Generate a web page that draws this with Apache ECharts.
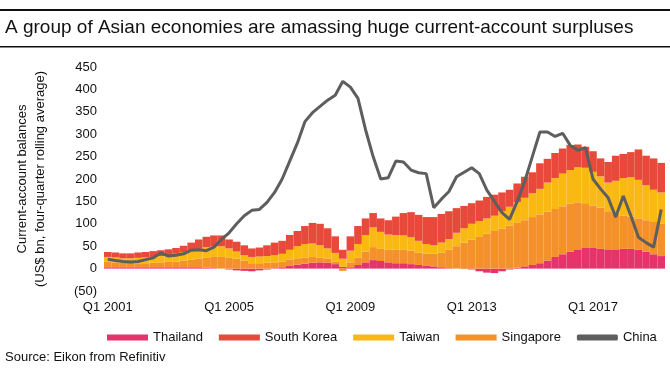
<!DOCTYPE html>
<html>
<head>
<meta charset="utf-8">
<title>Asian current-account surpluses</title>
<script src="https://cdn.jsdelivr.net/npm/echarts@6/dist/echarts.min.js"></script>
<style>
  html, body { margin: 0; padding: 0; background: #fff; }
  #chart { width: 670px; height: 377px; }
</style>
</head>
<body>
<div id="chart"></div>
<script>
// quarters Q1 2001 .. Q2 2019
const quarters = [];
for (let y = 2001; y <= 2019; y++) {
  for (let q = 1; q <= 4; q++) {
    if (y === 2019 && q > 2) break;
    quarters.push('Q' + q + ' ' + y);
  }
}

// US$ bn, four-quarter rolling average
const thailand = [
  3, 3, 3, 3, 3, 3, 3, 3, 3, 3, 3, 3, 3, 2, 1, 0,
  -2, -4, -5, -6, -4, -2, 1, 3, 6, 9, 11, 13, 14, 13, 10, 4,
  3, 8, 14, 19, 17, 14, 12, 12, 10, 8, 6, 5, 3, 1, 0, -1,
  -2, -6, -9, -10, -6, -2, 2, 5, 8, 12, 18, 26, 32, 38, 43, 46,
  46, 44, 43, 43, 44, 44, 42, 38, 32, 28
];
const singapore = [
  12, 11, 10, 10, 9, 9, 10, 11, 12, 13, 15, 17, 19, 22, 25, 26,
  24, 22, 18, 12, 12, 13, 13, 13, 14, 14, 14, 13, 11, 9, 6, -5,
  11, 17, 24, 29, 27, 28, 30, 30, 30, 28, 27, 28, 33, 41, 50, 58,
  65, 72, 78, 84, 89, 96, 100, 103, 107, 109, 109, 107, 107, 107, 105, 100,
  95, 92, 85, 79, 74, 72, 70, 70, 72, 72
];
const taiwan = [
  11, 11, 10, 10, 12, 13, 13, 14, 15, 17, 19, 20, 22, 24, 24, 24,
  21, 16, 12, 14, 15, 15, 16, 17, 22, 27, 30, 30, 27, 23, 19, 18,
  26, 30, 37, 44, 38, 34, 33, 32, 30, 26, 22, 19, 22, 24, 30, 32,
  35, 34, 34, 34, 39, 42, 46, 50, 53, 57, 65, 69, 73, 75, 78, 79,
  75, 70, 64, 74, 84, 88, 86, 78, 72, 70
];
const southKorea = [
  11, 11, 11, 11, 12, 12, 13, 13, 13, 13, 14, 18, 21, 23, 24, 24,
  20, 22, 22, 19, 20, 24, 28, 29, 33, 34, 40, 46, 48, 45, 37, 20,
  32, 40, 37, 32, 30, 32, 41, 50, 56, 58, 60, 63, 64, 62, 55, 50,
  46, 46, 48, 47, 42, 38, 42, 47, 47, 57, 53, 56, 56, 56, 51, 47,
  46, 40, 46, 56, 54, 56, 68, 66, 70, 66
];
const china = [
  21, 18, 16, 15, 16, 20, 24, 35, 28, 30, 33, 41, 42, 40, 48, 65,
  80, 100, 118, 130, 132, 148, 170, 200, 240, 280, 328, 348, 362, 376, 387, 418,
  405, 380, 310, 250, 200, 203, 240, 238, 220, 214, 212, 136, 155, 172, 205, 215,
  225, 212, 175, 150, 125, 110, 150, 195, 250, 305, 305, 295, 302, 275, 264, 270,
  200, 178, 158, 115, 162, 118, 70, 58, 48, 132
];

// colours
const colors = {
  thailand: '#E6336B',
  southKorea: '#E8493A',
  taiwan: '#F9B912',
  singapore: '#F4912A',
  china: '#5E5E5E'
};

const font = '"Liberation Sans", Arial, Helvetica, sans-serif';

const chart = echarts.init(document.getElementById('chart'));

// one stacked bar series
function barSeries(name, data, color) {
  return {
    name: name,
    type: 'bar',
    stack: 'ca',
    data: data,
    barCategoryGap: '0%',
    itemStyle: { color: color },
    emphasis: { disabled: true }
  };
}

chart.setOption({
  animation: false,
  textStyle: { fontFamily: font },
  graphic: [
    // rules above and below the title
    { type: 'rect', left: 0, top: 9, shape: { width: 670, height: 2 }, style: { fill: '#111' } },
    { type: 'rect', left: 0, top: 46, shape: { width: 670, height: 1.5 }, style: { fill: '#111' } },
    {
      type: 'text', left: 5, top: 18,
      style: {
        text: 'A group of Asian economies are amassing huge current-account surpluses',
        font: '19px ' + font, fill: '#111'
      }
    },
    {
      type: 'text', left: 5, top: 351,
      style: { text: 'Source: Eikon from Refinitiv', font: '13px ' + font, fill: '#111' }
    }
  ],
  legend: {
    left: 102,
    top: 326,
    itemWidth: 41,
    itemHeight: 6,
    itemGap: 16,
    textStyle: { fontSize: 13, color: '#111', fontFamily: font },
    data: [
      { name: 'Thailand', icon: 'rect' },
      { name: 'South Korea', icon: 'rect' },
      { name: 'Taiwan', icon: 'rect' },
      { name: 'Singapore', icon: 'rect' },
      { name: 'China', icon: 'roundRect' }
    ]
  },
  grid: {
    left: 104,
    right: 5,
    top: 67,
    bottom: 86
  },
  xAxis: {
    type: 'category',
    data: quarters,
    axisLine: { show: false, onZero: false },
    axisTick: { show: false },
    axisLabel: {
      interval: 15,
      margin: 10,
      fontSize: 13,
      color: '#111'
    }
  },
  yAxis: {
    type: 'value',
    min: -50,
    max: 450,
    interval: 50,
    name: 'Current-account balances\n(US$ bn, four-quarter rolling average)',
    nameLocation: 'middle',
    nameGap: 55,
    nameRotate: 90,
    nameTextStyle: { fontSize: 13, color: '#111', lineHeight: 18 },
    axisLine: { show: false },
    axisTick: { show: false },
    splitLine: { show: false },
    axisLabel: {
      margin: 7,
      fontSize: 13,
      color: '#111',
      formatter: (v) => (v < 0 ? '(' + (-v) + ')' : String(v))
    }
  },
  series: [
    barSeries('Thailand', thailand, colors.thailand),
    barSeries('Singapore', singapore, colors.singapore),
    barSeries('Taiwan', taiwan, colors.taiwan),
    barSeries('South Korea', southKorea, colors.southKorea),
    {
      name: 'China',
      type: 'line',
      data: china,
      symbol: 'none',
      z: 5,
      lineStyle: { width: 3, color: colors.china },
      itemStyle: { color: colors.china },
      emphasis: { disabled: true }
    }
  ]
});
</script>
</body>
</html>
